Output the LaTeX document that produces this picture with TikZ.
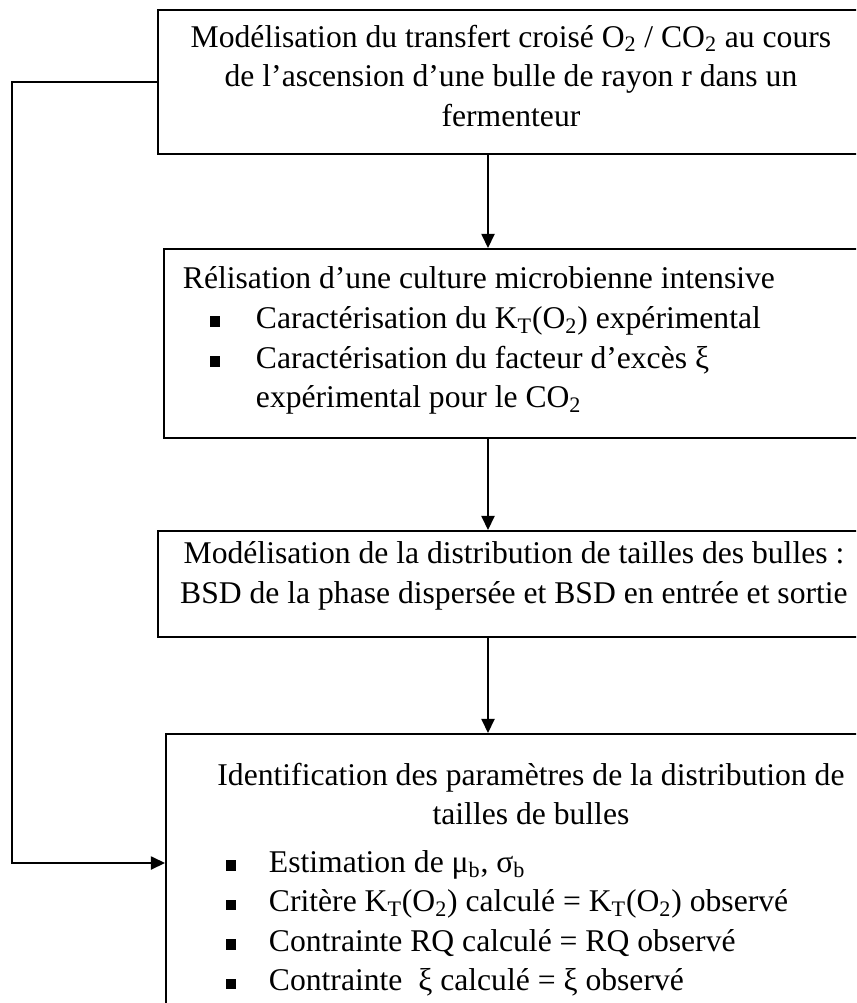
\documentclass[tikz,border=0pt]{standalone}
\usepackage{fontspec}
\setmainfont{Liberation Serif}
\usetikzlibrary{arrows.meta,positioning,calc}
\newlength\px
\setlength\px{0.02cm}
% taille du texte des cadres
\newcommand\texte{\fontsize{18}{22.5}\selectfont}
% carre noir des listes
\newcommand\carre{\rule[0.1ex]{5.5pt}{6pt}}
\newcommand\puceA{\makebox[92\px][l]{\hspace*{46\px}\carre}}
\newcommand\puceB{\makebox[103\px][l]{\hspace*{60\px}\carre}}

\tikzset{
  etape/.style={draw, line width=1.1pt, anchor=north west, inner sep=0pt},
  fleche/.style={-{Triangle[length=8pt,width=7.5pt]}, line width=0.8pt},
}

\begin{document}
\begin{tikzpicture}[x=0.02cm, y=-0.02cm]
\useasboundingbox (0,0) rectangle (856,1003);
\clip (0,0) rectangle (856,1003);

\node[etape] (modele) at (157,9) {\begin{minipage}[t][144\px][t]{706\px}\texte\centering
  \vspace*{15\px}Modélisation du transfert croisé O\textsubscript{2} / CO\textsubscript{2} au cours\\
  de l’ascension d’une bulle de rayon r dans un\\
  fermenteur\end{minipage}};

\node[etape] (culture) at (163,248) {\begin{minipage}[t][189\px][t]{697\px}\texte\raggedright
  \vspace*{18\px}\hspace*{19\px}Rélisation d’une culture microbienne intensive\\
  \puceA Caractérisation du K\textsubscript{T}(O\textsubscript{2}) expérimental\\
  \puceA Caractérisation du facteur d’excès ξ\\
  \hspace*{92\px}expérimental pour le CO\textsubscript{2}\end{minipage}};

\node[etape] (bsd) at (157,530) {\begin{minipage}[t][106\px][t]{712\px}\texte\centering
  \vspace*{11\px}Modélisation de la distribution de tailles des bulles :\\
  BSD de la phase dispersée et BSD en entrée et sortie\end{minipage}};

\node[etape] (ident) at (165,733) {\begin{minipage}[t][320\px][t]{730\px}\texte\centering
  \vspace*{29\px}Identification des paramètres de la distribution de\\
  tailles de bulles\par\vspace*{8\px}\raggedright
  \puceB Estimation de μ\textsubscript{b}, σ\textsubscript{b}\\
  \puceB Critère K\textsubscript{T}(O\textsubscript{2}) calculé = K\textsubscript{T}(O\textsubscript{2}) observé\\
  \puceB Contrainte RQ calculé = RQ observé\\
  \puceB Contrainte\ \ ξ calculé = ξ observé\end{minipage}};

% fleches verticales
\coordinate (axe) at (488,0);
\draw[fleche] (modele.south -| axe) -- (culture.north -| axe);
\draw[fleche] (culture.south -| axe) -- (bsd.north -| axe);
\draw[fleche] (bsd.south -| axe) -- (ident.north -| axe);

% retour vers l'identification
\coordinate (coude) at (12,0);
\coordinate (retour) at ($(ident.north west)+(0,130)$);
\draw[fleche] (modele.west) -- (modele.west -| coude) |- (retour);
\end{tikzpicture}
\end{document}
